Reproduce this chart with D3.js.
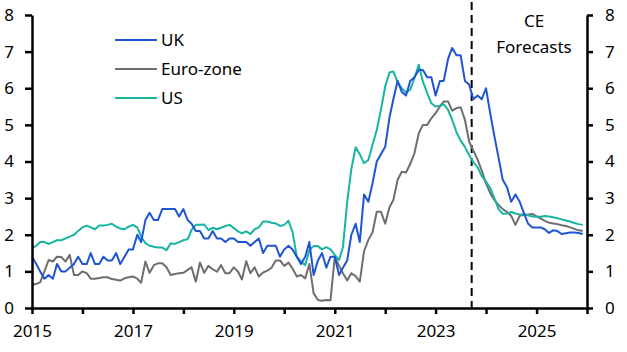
<!DOCTYPE html>
<html>
<head>
<meta charset="utf-8">
<script src="https://cdn.jsdelivr.net/npm/d3@7"></script>
<style>
  body { margin: 0; background: #fff; }
  svg { display: block; font-family: "Noto Sans", sans-serif; }
  .axis path, .axis line { stroke: #000; stroke-width: 2.5; }
  .axis text { font-size: 17px; fill: #000; font-family: "Noto Sans", sans-serif; }
</style>
</head>
<body>
<svg id="chart" width="627" height="352"></svg>
<script>
// monthly, Jan 2015 - Dec 2025 (forecasts from Oct 2023)
var startYear = 2015;
var ukValues = [
  1.4,1.2,1.0,0.8,0.9,0.8,1.2,1.0,1.0,1.1,1.2,1.4,
  1.2,1.2,1.5,1.2,1.2,1.4,1.3,1.3,1.5,1.2,1.4,1.6,
  1.6,2.0,1.8,2.4,2.6,2.4,2.4,2.7,2.7,2.7,2.7,2.5,
  2.7,2.4,2.3,2.1,2.1,1.9,1.9,2.1,1.9,1.9,1.8,1.9,
  1.9,1.8,1.8,1.8,1.7,1.8,1.9,1.5,1.7,1.7,1.7,1.4,
  1.6,1.7,1.6,1.4,1.2,1.4,1.8,0.9,1.3,1.5,1.1,1.4,
  1.4,0.9,1.1,1.3,2.0,2.3,1.8,3.1,2.9,3.4,4.0,4.2,
  4.4,5.2,5.7,6.2,5.9,5.8,6.2,6.3,6.5,6.5,6.3,6.3,
  5.8,6.2,6.2,6.8,7.1,6.9,6.9,6.2,6.1,5.7,5.8,5.7,
  6.0,5.3,4.7,4.1,3.5,3.3,2.9,3.1,2.9,2.6,2.3,2.2,
  2.2,2.2,2.15,2.05,2.12,2.1,2.02,2.04,2.06,2.06,2.05,2.02
];
var ezValues = [
  0.63,0.66,0.7,1.0,1.31,1.27,1.4,1.39,1.27,1.45,0.9,0.9,
  1.0,0.95,0.8,0.8,0.82,0.84,0.84,0.79,0.77,0.75,0.81,0.84,
  0.86,0.8,0.69,1.27,0.96,1.17,1.22,1.22,1.11,0.9,0.93,0.95,
  0.96,1.04,1.11,0.72,1.24,0.96,1.15,1.06,0.99,1.17,0.95,0.95,
  1.11,0.99,0.78,1.28,0.95,1.11,0.86,0.97,1.02,1.1,1.3,1.3,
  1.15,1.24,1.08,0.86,0.9,0.81,1.2,0.4,0.22,0.2,0.22,0.21,
  1.4,1.15,0.95,0.75,0.95,0.87,0.72,1.55,1.86,2.06,2.63,2.63,
  2.3,2.75,2.95,3.5,3.72,3.7,3.93,4.23,4.77,5.0,5.0,5.18,
  5.32,5.5,5.64,5.64,5.39,5.46,5.48,5.14,4.54,4.3,4.05,3.75,
  3.4,3.13,2.95,2.81,2.7,2.62,2.52,2.27,2.52,2.54,2.55,2.57,
  2.5,2.44,2.38,2.33,2.31,2.29,2.26,2.24,2.2,2.16,2.12,2.1
];
var usValues = [
  1.63,1.7,1.8,1.8,1.75,1.8,1.85,1.85,1.9,1.95,2.0,2.1,
  2.2,2.25,2.2,2.15,2.25,2.25,2.27,2.3,2.22,2.17,2.15,2.22,
  2.27,2.2,1.95,1.77,1.7,1.67,1.65,1.65,1.58,1.77,1.75,1.8,
  1.85,1.88,2.13,2.27,2.27,2.28,2.13,2.19,2.15,2.19,2.24,2.27,
  2.18,2.09,2.04,2.09,2.02,2.15,2.2,2.36,2.36,2.33,2.31,2.24,
  2.27,2.38,2.08,1.4,1.27,1.17,1.58,1.69,1.69,1.6,1.66,1.6,
  1.45,1.31,1.66,2.9,3.8,4.39,4.2,3.95,4.04,4.45,4.86,5.41,
  6.05,6.43,6.46,6.16,6.0,5.88,5.96,6.28,6.64,6.18,5.87,5.59,
  5.5,5.52,5.56,5.41,5.14,4.8,4.57,4.4,4.18,3.98,3.84,3.6,
  3.45,3.27,3.0,2.7,2.57,2.58,2.62,2.58,2.55,2.56,2.53,2.5,
  2.49,2.49,2.51,2.5,2.48,2.45,2.42,2.39,2.36,2.32,2.29,2.27
];
var seriesNames = ["UK", "Euro-zone", "US"];
var seriesColors = ["#1f55d4", "#6e6e6e", "#17b4a1"];
var yTicks = [0, 1, 2, 3, 4, 5, 6, 7, 8];
var xTickYears = [2015, 2016, 2017, 2018, 2019, 2020, 2021, 2022, 2023, 2024, 2025, 2026];
var xLabelYears = [2015, 2017, 2019, 2021, 2023, 2025];
var forecastStart = new Date(2023, 8, 19);
var forecastLabel = ["CE", "Forecasts"];

var svg = d3.select("#chart");
var plotLeft = 32, plotRight = 587, plotTop = 15, plotBottom = 308;

var x = d3.scaleTime()
  .domain([new Date(2015, 0, 1), new Date(2026, 0, 1)])
  .range([plotLeft, plotRight]);
var y = d3.scaleLinear().domain([0, 8]).range([plotBottom, plotTop]);

function monthDate(i) { return new Date(startYear, i, 1); }

var allSeries = [ukValues, ezValues, usValues];

// dashed forecast line
svg.append("line")
  .attr("x1", x(forecastStart)).attr("x2", x(forecastStart))
  .attr("y1", 2).attr("y2", plotBottom)
  .attr("stroke", "#000")
  .attr("stroke-width", 2)
  .attr("stroke-dasharray", "8,5");

var line = d3.line()
  .x(function (d, i) { return x(monthDate(i)); })
  .y(function (d) { return y(d); });

// draw Euro-zone first, then US, then UK on top
[1, 2, 0].forEach(function (k) {
  svg.append("path")
    .datum(allSeries[k])
    .attr("d", line)
    .attr("fill", "none")
    .attr("stroke", seriesColors[k])
    .attr("stroke-width", 2)
    .attr("stroke-linejoin", "round");
});

// axes
svg.append("g")
  .attr("class", "axis")
  .attr("transform", "translate(" + plotLeft + ",0)")
  .call(d3.axisLeft(y).tickValues(yTicks).tickSize(7).tickSizeOuter(0).tickPadding(11));

svg.append("g")
  .attr("class", "axis")
  .attr("transform", "translate(" + plotRight + ",0)")
  .call(d3.axisRight(y).tickValues(yTicks).tickSize(6).tickSizeOuter(0).tickPadding(12));

svg.append("g")
  .attr("class", "axis")
  .attr("transform", "translate(0," + plotBottom + ")")
  .call(d3.axisBottom(x)
    .tickValues(xTickYears.map(function (yr) { return new Date(yr, 0, 1); }))
    .tickSize(6).tickSizeOuter(0).tickPadding(11)
    .tickFormat(function (d) {
      var yr = d.getFullYear();
      return xLabelYears.indexOf(yr) >= 0 ? yr : "";
    }));

// legend
var legend = svg.append("g");
seriesNames.forEach(function (name, i) {
  var ly = 40 + i * 29;
  legend.append("line")
    .attr("x1", 115).attr("x2", 157)
    .attr("y1", ly).attr("y2", ly)
    .attr("stroke", seriesColors[i])
    .attr("stroke-width", 2);
  legend.append("text")
    .attr("x", 161).attr("y", ly + 6)
    .style("font-size", "17px")
    .text(name);
});

// forecast label
forecastLabel.forEach(function (t, i) {
  svg.append("text")
    .attr("x", 534).attr("y", 27 + i * 26)
    .attr("text-anchor", "middle")
    .style("font-size", "17px")
    .text(t);
});
</script>
</body>
</html>
